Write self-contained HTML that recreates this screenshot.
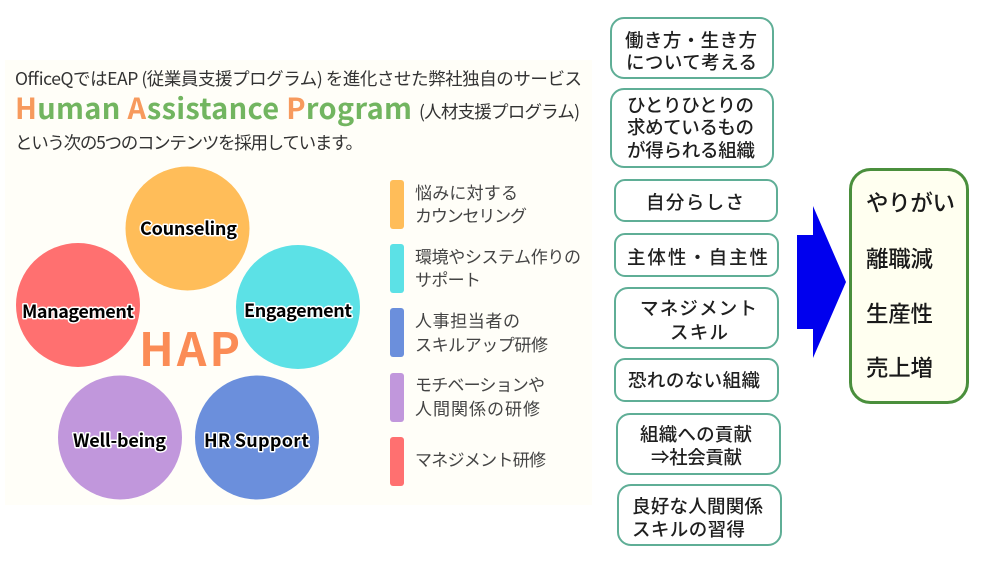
<!DOCTYPE html>
<html lang="ja">
<head>
<meta charset="utf-8">
<style>
html,body{margin:0;padding:0;background:#fff;width:990px;height:568px;overflow:hidden}
svg{display:block;font-family:"Liberation Sans","Noto Sans CJK JP",sans-serif;filter:blur(0.35px)}
text{font-family:"Noto Sans CJK JP","Liberation Sans",sans-serif}
.h{fill:#333;font-size:17.5px}
.l{fill:#444;font-size:17px}
.b{fill:#1f1f1f;font-size:18.5px;font-weight:500}
.r{fill:#1a1a1a;font-size:22.5px;font-weight:500}
.c{fill:#000;font-size:18px;font-weight:700;stroke:#fff;stroke-width:3px;paint-order:stroke;stroke-linejoin:round}
.box{fill:#fff;stroke:#5fae96;stroke-width:2}
</style>
</head>
<body>
<svg width="990" height="568" viewBox="0 0 990 568" xmlns="http://www.w3.org/2000/svg">
<rect x="5" y="60" width="587" height="445" fill="#fffef8"/>

<text class="h" x="15" y="85" textLength="567">OfficeQではEAP (従業員支援プログラム) を進化させた弊社独自のサービス</text>
<text x="15" y="119" font-size="29" font-weight="700" textLength="397" fill="#72b560"><tspan fill="#f79a5d">H</tspan>uman <tspan fill="#f79a5d">A</tspan>ssistance <tspan fill="#f79a5d">P</tspan>rogram</text>
<text class="h" x="419" y="118" textLength="161">(人材支援プログラム)</text>
<text class="h" x="15" y="149" textLength="348">という次の5つのコンテンツを採用しています。</text>

<circle cx="187.500" cy="228.500" r="62" fill="#ffbd59"/>
<circle cx="78" cy="305" r="62" fill="#ff7070"/>
<circle cx="298" cy="307" r="62" fill="#5ce1e6"/>
<circle cx="120" cy="437.500" r="62" fill="#c197dc"/>
<circle cx="257" cy="437.500" r="62" fill="#6b8fdc"/>

<text class="c" x="140" y="235" textLength="97">Counseling</text>
<text class="c" x="22" y="318" textLength="112">Management</text>
<text class="c" x="244" y="317" textLength="108">Engagement</text>
<text class="c" x="73" y="447" textLength="93">Well-being</text>
<text class="c" x="204" y="447" textLength="105">HR Support</text>

<text x="139" y="366" font-size="46" font-weight="600" fill="#fb8c56" textLength="101">HAP</text>

<rect x="390" y="180" width="14" height="49" rx="3" fill="#ffbd59"/>
<rect x="390" y="244" width="14" height="49" rx="3" fill="#5ce1e6"/>
<rect x="390" y="308" width="14" height="49" rx="3" fill="#6b8fdc"/>
<rect x="390" y="373" width="14" height="49" rx="3" fill="#c197dc"/>
<rect x="390" y="437" width="14" height="49" rx="3" fill="#ff7070"/>

<text class="l" x="415" y="199" textLength="103">悩みに対する</text>
<text class="l" x="415" y="222" textLength="112">カウンセリング</text>
<text class="l" x="415" y="263" textLength="166">環境やシステム作りの</text>
<text class="l" x="415" y="286" textLength="66">サポート</text>
<text class="l" x="415" y="327" textLength="105">人事担当者の</text>
<text class="l" x="415" y="351" textLength="133">スキルアップ研修</text>
<text class="l" x="415" y="391" textLength="130">モチベーションや</text>
<text class="l" x="415" y="415" textLength="125">人間関係の研修</text>
<text class="l" x="415" y="466" textLength="131">マネジメント研修</text>

<rect class="box" x="611" y="18" width="162" height="60" rx="13"/>
<rect class="box" x="611" y="89" width="162" height="78" rx="13"/>
<rect class="box" x="615" y="180" width="162" height="41" rx="10"/>
<rect class="box" x="615" y="234" width="163" height="42" rx="10"/>
<rect class="box" x="615" y="288" width="163" height="60" rx="13"/>
<rect class="box" x="615" y="359" width="163" height="42" rx="10"/>
<rect class="box" x="617" y="414" width="163" height="60" rx="13"/>
<rect class="box" x="618" y="485" width="163" height="60" rx="13"/>

<text class="b" x="625" y="47" textLength="132">働き方・生き方</text>
<text class="b" x="626" y="69" textLength="131">について考える</text>
<text class="b" x="627" y="112" textLength="127">ひとりひとりの</text>
<text class="b" x="627" y="134" textLength="127">求めているもの</text>
<text class="b" x="627" y="157" textLength="128">が得られる組織</text>
<text class="b" x="646" y="209" textLength="98">自分らしさ</text>
<text class="b" x="627" y="264" textLength="141">主体性・自主性</text>
<text class="b" x="640" y="315" textLength="117">マネジメント</text>
<text class="b" x="670" y="339" textLength="58">スキル</text>
<text class="b" x="628" y="387" textLength="132">恐れのない組織</text>
<text class="b" x="640" y="441" textLength="112">組織への貢献</text>
<text class="b" x="651" y="464" textLength="91">⇒社会貢献</text>
<text class="b" x="632" y="513" textLength="131">良好な人間関係</text>
<text class="b" x="632" y="536" textLength="113">スキルの習得</text>

<polygon points="797,235 813,235 813,206 846,282 813,358 813,329 797,329" fill="#0000ee"/>

<rect x="850.500" y="169.500" width="117" height="233" rx="20" fill="#fffff0" stroke="#4a8f3c" stroke-width="3"/>
<text class="r" x="866" y="211" textLength="89">やりがい</text>
<text class="r" x="866" y="267" textLength="67">離職減</text>
<text class="r" x="866" y="322" textLength="67">生産性</text>
<text class="r" x="866" y="376" textLength="67">売上増</text>
</svg>
</body>
</html>
